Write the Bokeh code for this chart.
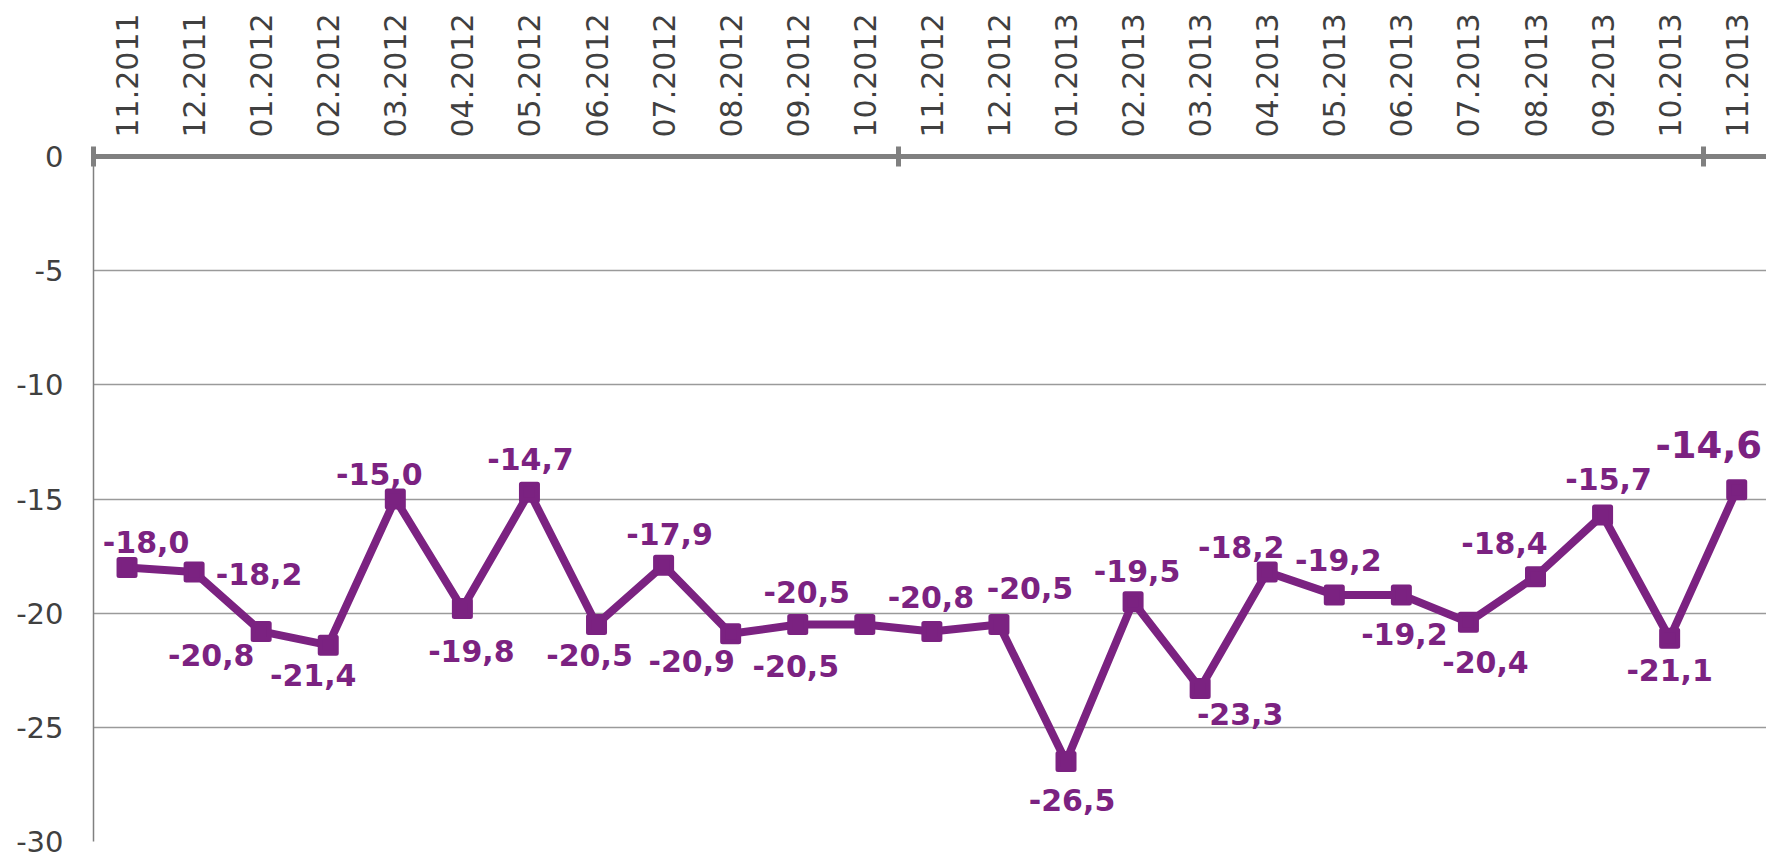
import math
from bokeh.plotting import figure
from bokeh.models import ColumnDataSource, FixedTicker, Range1d
from bokeh.core.properties import value
from bokeh.embed import file_html
from bokeh.resources import INLINE

# ---- data ----
months = ["11.2011", "12.2011", "01.2012", "02.2012", "03.2012", "04.2012", "05.2012",
          "06.2012", "07.2012", "08.2012", "09.2012", "10.2012", "11.2012", "12.2012",
          "01.2013", "02.2013", "03.2013", "04.2013", "05.2013", "06.2013", "07.2013",
          "08.2013", "09.2013", "10.2013", "11.2013"]
values = [-18.0, -18.2, -20.8, -21.4, -15.0, -19.8, -14.7, -20.5, -17.9, -20.9, -20.5,
          -20.5, -20.8, -20.5, -26.5, -19.5, -23.3, -18.2, -19.2, -19.2, -20.4, -18.4,
          -15.7, -21.1, -14.6]
y_ticks = [0, -5, -10, -15, -20, -25, -30]

# ---- label placement (screen pixel offsets) ----
label_dx = [19, 65, -50, -15, -16, 9, 1, -7, 6, -39, 9, -69, -1, 31, 6, 4, 40, -26, 4, 3, 17, -31, 6, 0, -28]
label_dy = [-26, 2, 24, 30, -25, 42, -33, 30, -31, 27, -33, 41, -34, -37, 38, -31, 25, -25, -35, 39, 40, -34, -36, 32, -45]
label_size = ["30px"] * (len(values) - 1) + ["37px"]

PURPLE = "#7B2281"
GRAY = "#808080"
TXT = "#404040"
FONT = "DejaVu Sans"

xs = list(range(len(months)))
src = ColumnDataSource(dict(
    x=xs, y=values,
    label=[f"{v:.1f}".replace(".", ",") for v in values],
    dx=label_dx, dy=label_dy, fs=label_size,
))

W, H = 1766, 854
left, top, bottom = 93, 156, 13
cat_px = 67.07
x_end = -0.5 + (W - left) / cat_px

p = figure(width=W, height=H, output_backend="svg", toolbar_location=None,
           x_range=Range1d(-0.5, x_end), y_range=Range1d(-30, 0),
           x_axis_location="above",
           min_border_left=left, min_border_top=top, min_border_bottom=bottom,
           min_border_right=0)
p.outline_line_color = None
p.background_fill_color = "white"
p.border_fill_color = "white"

# x axis (top)
xa = p.xaxis[0]
n = len(months)
xa.ticker = FixedTicker(ticks=xs, minor_ticks=[-0.5 + k for k in range(0, n + 1, 12)])
xa.major_label_overrides = {i: m for i, m in enumerate(months)}
xa.major_label_orientation = math.pi / 2
xa.major_label_text_font = FONT
xa.major_label_text_font_size = "30px"
xa.major_label_text_color = TXT
xa.major_label_standoff = 9
xa.major_tick_line_color = None
xa.major_tick_out = 0
xa.major_tick_in = 0
xa.minor_tick_line_color = GRAY
xa.minor_tick_line_width = 5
xa.minor_tick_in = 10
xa.minor_tick_out = 10
xa.axis_line_color = GRAY
xa.axis_line_width = 5

# y axis
ya = p.yaxis[0]
ya.ticker = FixedTicker(ticks=y_ticks)
ya.major_label_overrides = {t: str(t) for t in y_ticks}
ya.major_label_text_font = FONT
ya.major_label_text_font_size = "29px"
ya.major_label_text_color = TXT
ya.major_label_standoff = 30
ya.major_tick_line_color = None
ya.major_tick_out = 0
ya.major_tick_in = 0
ya.minor_tick_line_color = None
ya.axis_line_color = GRAY
ya.axis_line_width = 1.5

p.xgrid.grid_line_color = None
p.ygrid.ticker = FixedTicker(ticks=y_ticks)
p.ygrid.grid_line_color = "#9a9a9a"
p.ygrid.grid_line_width = 1.5

p.line("x", "y", source=src, line_color=PURPLE, line_width=8, line_join="round")
p.scatter("x", "y", source=src, marker="square", size=16, fill_color=PURPLE,
          line_color=PURPLE, line_width=5, line_join="round")
p.text("x", "y", text="label", source=src, x_offset="dx", y_offset="dy",
       text_font=value(FONT), text_font_style="bold", text_font_size="fs",
       text_color=PURPLE, text_align="center", text_baseline="middle")

open("out.html", "w").write(file_html(p, INLINE))
